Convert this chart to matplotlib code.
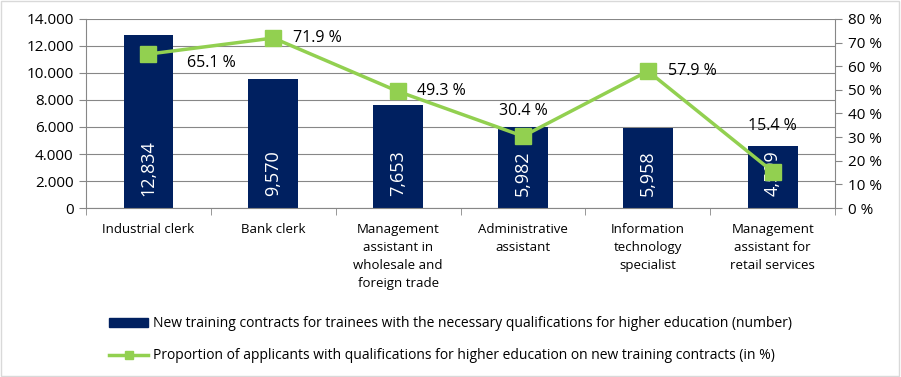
import numpy as np
import matplotlib.pyplot as plt
from matplotlib.ticker import FuncFormatter, FixedLocator
from matplotlib.lines import Line2D
from matplotlib.patches import Patch
import matplotlib.font_manager as fm

available = {f.name for f in fm.fontManager.ttflist}
for name in ["Liberation Sans Narrow", "Open Sans", "DejaVu Sans"]:
    if name in available:
        plt.rcParams['font.family'] = [name, 'DejaVu Sans']
        break

# data
categories = ["Industrial clerk", "Bank clerk",
              "Management\nassistant in\nwholesale and\nforeign trade",
              "Administrative\nassistant", "Information\ntechnology\nspecialist",
              "Management\nassistant for\nretail services"]
contracts = [12834, 9570, 7653, 5982, 5958, 4599]
share = [65.1, 71.9, 49.3, 30.4, 57.9, 15.4]
bar_labels = ["12,834", "9,570", "7,653", "5,982", "5,958", "4,599"]

navy = "#002060"
green = "#92D050"
grid_c = "#878787"

fig = plt.figure(figsize=(9.01, 3.77), dpi=100)
ax = fig.add_axes([0.0955, 0.448, 0.8315, 0.502])
x = np.arange(len(categories))

ax.bar(x, contracts, width=0.4, color=navy, zorder=2)
ax.set_xlim(-0.5, len(categories) - 0.5)
ax.set_ylim(0, 14000)
ax.set_yticks(np.arange(0, 14001, 2000))
ax.yaxis.set_major_formatter(FuncFormatter(lambda v, p: f"{int(v):,}".replace(",", ".")))
ax.grid(axis='y', color=grid_c, linewidth=0.8, zorder=0)
ax.set_axisbelow(True)
for s in ['top', 'right']:
    ax.spines[s].set_visible(False)
ax.spines['left'].set_color(grid_c)
ax.spines['bottom'].set_color(grid_c)
ax.tick_params(axis='y', labelsize=11, length=5, color=grid_c, pad=4)
ax.set_xticks(x)
ax.set_xticklabels(categories, fontsize=9.5, linespacing=1.5, va='top')
ax.tick_params(axis='x', which='major', length=0, pad=11)
ax.xaxis.set_minor_locator(FixedLocator(np.arange(-0.5, len(categories), 1)))
ax.tick_params(axis='x', which='minor', length=5, color=grid_c)

for xi, lab in zip(x, bar_labels):
    ax.text(xi, 900, lab, rotation=90, color='white', ha='center', va='bottom',
            fontsize=13, zorder=3)

ax2 = ax.twinx()
ax2.plot(x, share, color=green, linewidth=2.5, marker='s', markersize=11, zorder=4)
ax2.set_ylim(0, 80)
ax2.set_yticks(np.arange(0, 81, 10))
ax2.yaxis.set_major_formatter(FuncFormatter(lambda v, p: f"{int(v)} %"))
ax2.tick_params(axis='y', labelsize=11, length=5, color=grid_c, pad=4)
for s in ['top', 'left', 'bottom']:
    ax2.spines[s].set_visible(False)
ax2.spines['right'].set_color(grid_c)

# data labels for the line
offsets = [(0.31, -3.8, 'left'), (0.16, 0, 'left'), (0.15, 0, 'left'),
           (0, 10.6, 'center'), (0.16, 0, 'left'), (0, 19.5, 'center')]
for xi, v, (dx, dy, ha) in zip(x, share, offsets):
    ax2.text(xi + dx, v + dy, f"{v} %", ha=ha, va='center', fontsize=11.5, zorder=5)

handles = [Patch(color=navy),
           Line2D([0], [0], color=green, linewidth=2.5, marker='s', markersize=6)]
labels = ["New training contracts for trainees with the necessary qualifications for higher education (number)",
          "Proportion of applicants with qualifications for higher education on new training contracts (in %)"]
fig.legend(handles, labels, loc='lower center', bbox_to_anchor=(0.5, 0.003), ncol=1,
           frameon=False, fontsize=10, handlelength=2.8, handleheight=0.6,
           labelspacing=1.25, handletextpad=0.3)

fig.patches.append(plt.Rectangle((0.001, 0.002), 0.997, 0.995, transform=fig.transFigure,
                                 fill=False, edgecolor="#d9d9d9", linewidth=1))
fig.savefig("out.png", dpi=100)
